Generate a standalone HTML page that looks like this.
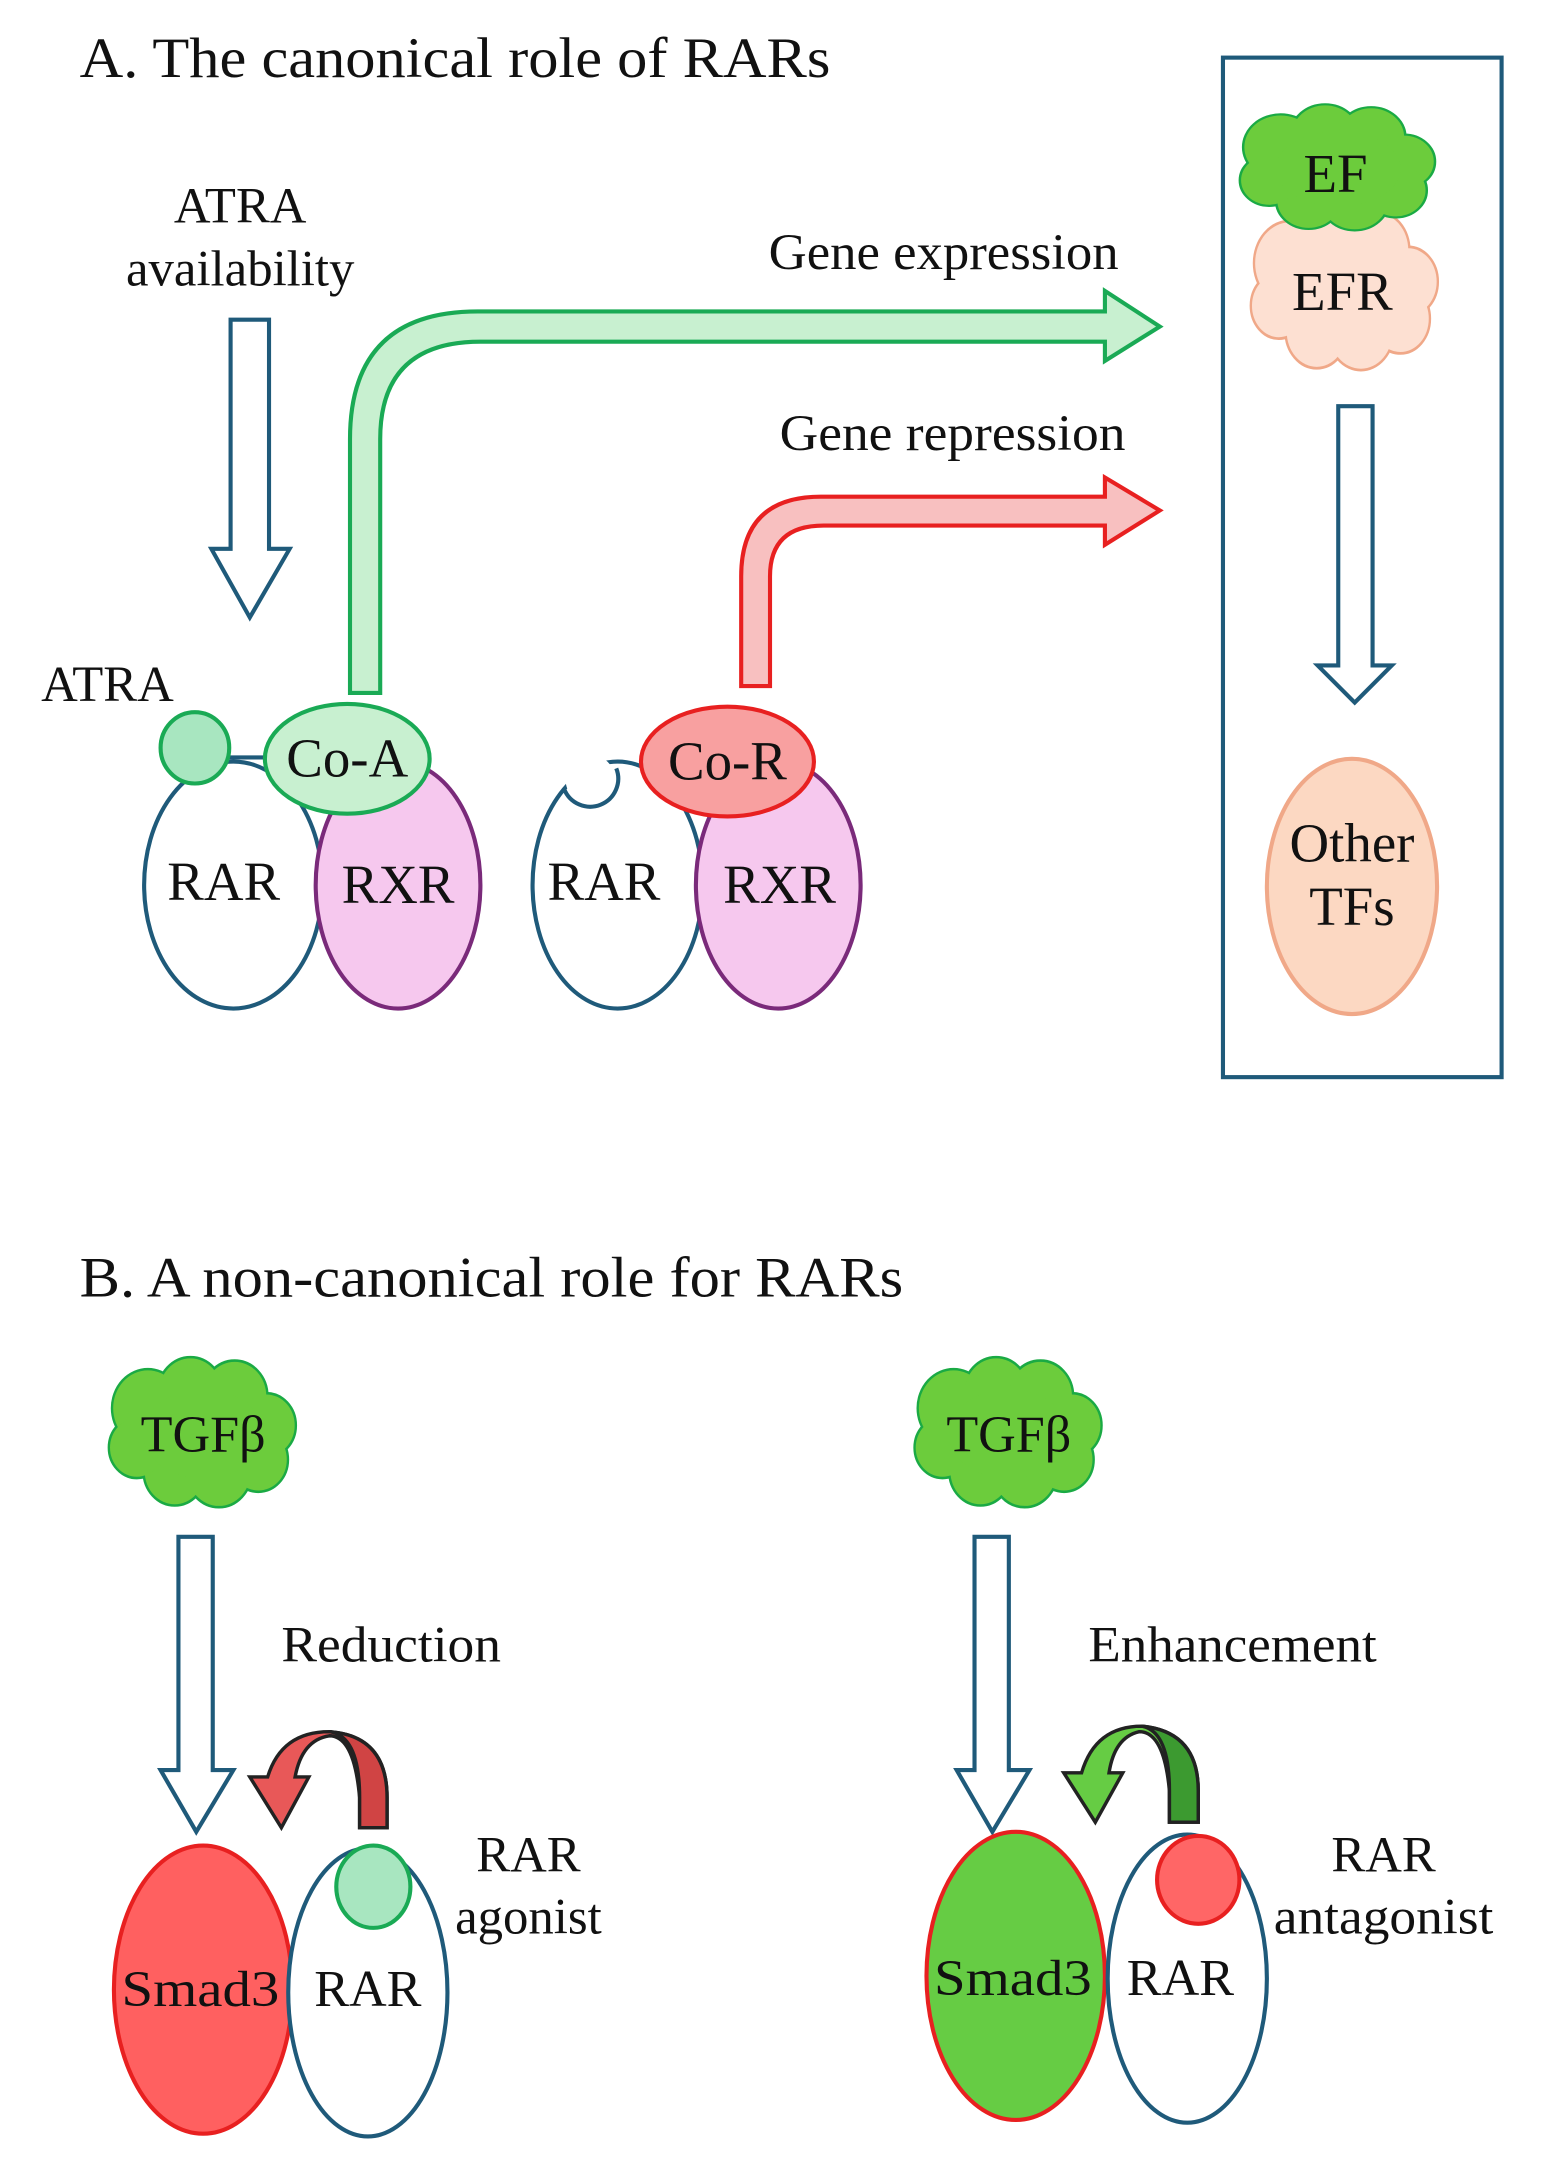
<!DOCTYPE html>
<html><head><meta charset="utf-8"><style>html,body{margin:0;padding:0;background:#fff}svg{display:block}text{font-family:"Liberation Serif",serif;fill:#111}</style></head>
<body>
<svg width="1551" height="2168" viewBox="0 0 1130 1580" preserveAspectRatio="none" xmlns="http://www.w3.org/2000/svg">
<defs>
<g id="cloud">
<circle cx="-35" cy="-15" r="22"/><circle cx="-8" cy="-24" r="20"/><circle cx="20" cy="-22" r="20"/><circle cx="40" cy="-5" r="18"/><circle cx="35" cy="15" r="18"/><circle cx="10" cy="22" r="20"/><circle cx="-18" cy="22" r="19"/><circle cx="-42" cy="8" r="17"/>
</g>
<ellipse id="cloudc" cx="0" cy="0" rx="38" ry="26"/>
</defs>
<text x="58" y="56" font-size="42" textLength="547" lengthAdjust="spacingAndGlyphs">A. The canonical role of RARs</text>
<rect x="891" y="42" width="203" height="743" fill="none" stroke="#1f5a7a" stroke-width="3"/>
<text x="175" y="162" font-size="37" text-anchor="middle">ATRA</text>
<text x="175" y="208" font-size="37" text-anchor="middle">availability</text>
<path d="M168,233 H196 V400 H211 L182,450 L154,400 H168 Z" fill="#fff" stroke="#1f5a7a" stroke-width="3"/>
<path d="M255,505 V320 Q255,227 348,227 H805 V212 L845,238 L805,263 V249 H350 Q277,249 277,320 V505 Z" fill="#c8f0d0" stroke="#1aaa55" stroke-width="3"/>
<text x="560" y="196" font-size="37" textLength="255" lengthAdjust="spacingAndGlyphs">Gene expression</text>
<path d="M540,500 V420 Q540,362 598,362 H805 V348 L845,372 L805,397 V383 H600 Q561,383 561,420 V500 Z" fill="#f8c0c0" stroke="#e82020" stroke-width="3"/>
<text x="568" y="328" font-size="37" textLength="252" lengthAdjust="spacingAndGlyphs">Gene repression</text>
<text x="30" y="511" font-size="37">ATRA</text>
<ellipse cx="170" cy="645" rx="65" ry="90" fill="#fff" stroke="#1f5a7a" stroke-width="3"/>
<ellipse cx="290" cy="645" rx="60" ry="90" fill="#f6c8ee" stroke="#7a2a7a" stroke-width="3"/>
<line x1="165" y1="552" x2="195" y2="552" stroke="#1f5a7a" stroke-width="3"/>
<ellipse cx="142" cy="545" rx="25" ry="26" fill="#a8e6c0" stroke="#1aaa55" stroke-width="3"/>
<ellipse cx="253" cy="553" rx="60" ry="40" fill="#c8f0d0" stroke="#1aaa55" stroke-width="3"/>
<text x="253" y="566" font-size="40" text-anchor="middle">Co-A</text>
<text x="163" y="656" font-size="40" text-anchor="middle">RAR</text>
<text x="290" y="658" font-size="40" text-anchor="middle">RXR</text>
<ellipse cx="450" cy="645" rx="62" ry="90" fill="#fff" stroke="#1f5a7a" stroke-width="3"/>
<circle cx="430" cy="568" r="18" fill="#fff"/>
<path d="M411,575 A20,20 0 0 0 449,560" fill="none" stroke="#1f5a7a" stroke-width="3"/>
<ellipse cx="567" cy="645" rx="60" ry="90" fill="#f6c8ee" stroke="#7a2a7a" stroke-width="3"/>
<ellipse cx="530" cy="555" rx="63" ry="40" fill="#f8a0a0" stroke="#e82020" stroke-width="3"/>
<text x="530" y="568" font-size="40" text-anchor="middle">Co-R</text>
<text x="440" y="656" font-size="40" text-anchor="middle">RAR</text>
<text x="568" y="658" font-size="40" text-anchor="middle">RXR</text>
<g transform="translate(980,212) scale(1.15,1.35)"><use href="#cloud" fill="#fde0d2" stroke="#f0a888" stroke-width="3"/><use href="#cloud" fill="#fde0d2"/><use href="#cloudc" fill="#fde0d2"/></g>
<g transform="translate(975,123) scale(1.2,1.05)"><use href="#cloud" fill="#6ccc3c" stroke="#1aaa44" stroke-width="3"/><use href="#cloud" fill="#6ccc3c"/><use href="#cloudc" fill="#6ccc3c"/></g>
<text x="973" y="140" font-size="40" text-anchor="middle">EF</text>
<text x="978" y="226" font-size="40" text-anchor="middle">EFR</text>
<path d="M975,296 H1000 V485 H1014 L987,512 L960,485 H975 Z" fill="#fff" stroke="#1f5a7a" stroke-width="3"/>
<ellipse cx="985" cy="646" rx="62" ry="93" fill="#fcd8c2" stroke="#f0a888" stroke-width="3"/>
<text x="985" y="628" font-size="40" text-anchor="middle">Other</text>
<text x="985" y="674" font-size="40" text-anchor="middle">TFs</text>
<text x="58" y="945" font-size="42" textLength="600" lengthAdjust="spacingAndGlyphs">B. A non-canonical role for RARs</text>
<g transform="translate(148,1045) scale(1.15,1.25)"><use href="#cloud" fill="#6ccc3c" stroke="#1aaa44" stroke-width="3"/><use href="#cloud" fill="#6ccc3c"/><use href="#cloudc" fill="#6ccc3c"/></g>
<text x="148" y="1058" font-size="38" text-anchor="middle">TGFβ</text>
<g transform="translate(735,1045) scale(1.15,1.25)"><use href="#cloud" fill="#6ccc3c" stroke="#1aaa44" stroke-width="3"/><use href="#cloud" fill="#6ccc3c"/><use href="#cloudc" fill="#6ccc3c"/></g>
<text x="735" y="1058" font-size="38" text-anchor="middle">TGFβ</text>
<path d="M130,1120 H155 V1290 H170 L143,1335 L117,1290 H130 Z" fill="#fff" stroke="#1f5a7a" stroke-width="3"/>
<path d="M710,1120 H735 V1290 H750 L723,1335 L697,1290 H710 Z" fill="#fff" stroke="#1f5a7a" stroke-width="3"/>
<text x="205" y="1211" font-size="37" textLength="160" lengthAdjust="spacingAndGlyphs">Reduction</text>
<text x="793" y="1211" font-size="37" textLength="210" lengthAdjust="spacingAndGlyphs">Enhancement</text>
<path d="M262,1332 L262,1310 Q258,1265 240,1265 Q220,1268 215,1295 L225,1295 L205,1332 L182,1295 L195,1295 Q205,1262 240,1262 Q282,1265 282,1310 V1332 Z" fill="#e85858" stroke="#222" stroke-width="2.5"/>
<path d="M240,1262 Q262,1265 262,1310 V1332 H282 V1310 Q282,1265 240,1262 Z" fill="#d04444" stroke="#222" stroke-width="2.5"/>
<path d="M852,1328 L852,1305 Q848,1262 830,1262 Q812,1266 808,1292 L818,1292 L798,1328 L775,1292 L788,1292 Q798,1258 832,1258 Q873,1262 873,1305 V1328 Z" fill="#66cc44" stroke="#222" stroke-width="2.5"/>
<path d="M832,1258 Q852,1262 852,1305 V1328 H873 V1305 Q873,1262 832,1258 Z" fill="#3c9a30" stroke="#222" stroke-width="2.5"/>
<ellipse cx="148" cy="1450" rx="65" ry="105" fill="#ff6060" stroke="#e82020" stroke-width="3"/>
<ellipse cx="268" cy="1452" rx="58" ry="105" fill="#fff" stroke="#1f5a7a" stroke-width="3"/>
<ellipse cx="272" cy="1375" rx="27" ry="30" fill="#a8e6c0" stroke="#1aaa55" stroke-width="3"/>
<text x="146" y="1462" font-size="37" text-anchor="middle" textLength="115" lengthAdjust="spacingAndGlyphs">Smad3</text>
<text x="268" y="1462" font-size="38" text-anchor="middle">RAR</text>
<text x="385" y="1364" font-size="37" text-anchor="middle">RAR</text>
<text x="385" y="1409" font-size="37" text-anchor="middle">agonist</text>
<ellipse cx="740" cy="1440" rx="65" ry="105" fill="#66cc44" stroke="#e82020" stroke-width="3"/>
<ellipse cx="865" cy="1442" rx="58" ry="105" fill="#fff" stroke="#1f5a7a" stroke-width="3"/>
<ellipse cx="873" cy="1370" rx="30" ry="32" fill="#ff6666" stroke="#e82020" stroke-width="3"/>
<text x="738" y="1454" font-size="37" text-anchor="middle" textLength="115" lengthAdjust="spacingAndGlyphs">Smad3</text>
<text x="860" y="1454" font-size="38" text-anchor="middle">RAR</text>
<text x="1008" y="1364" font-size="37" text-anchor="middle">RAR</text>
<text x="1008" y="1409" font-size="37" text-anchor="middle" textLength="160" lengthAdjust="spacingAndGlyphs">antagonist</text>
</svg>
</body></html>
